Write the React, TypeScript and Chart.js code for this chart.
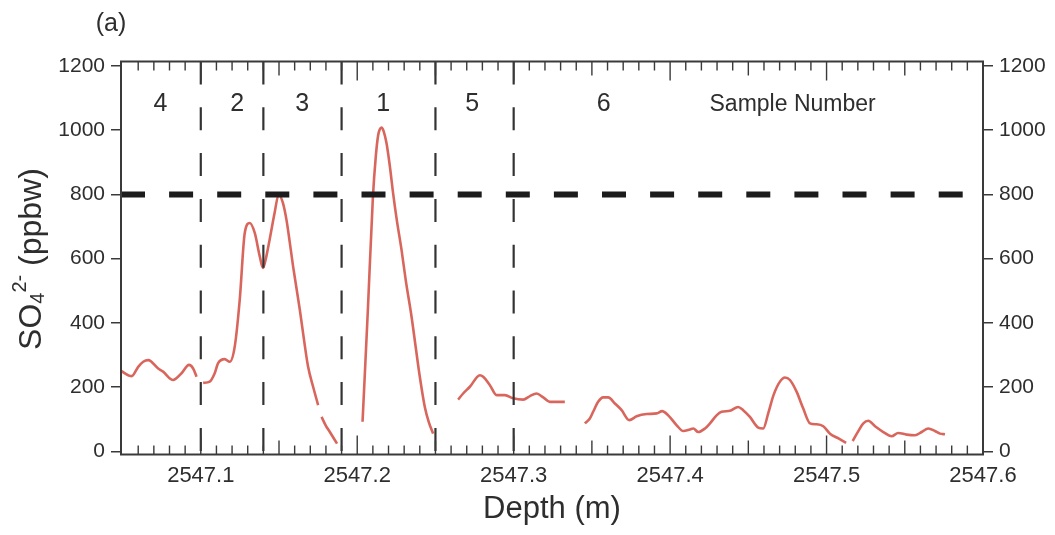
import React, { useEffect, useRef } from 'react';
import { Chart, registerables } from 'chart.js';

Chart.register(...registerables);

const FONT = '"Liberation Sans", Arial, Helvetica, sans-serif';
const TEXT = '#2e2e2e';
const AXIS = '#3a3a3a';
const RED = '#d9665c';

// ---- axes ----
const X_MIN = 2547.049;
const X_MAX = 2547.6;
const Y_MIN = -10;
const Y_MAX = 1214;
const xTickValues = [2547.1, 2547.2, 2547.3, 2547.4, 2547.5, 2547.6];
const yTickValues = [0, 200, 400, 600, 800, 1000, 1200];

// ---- annotations ----
const thresholdPpbw = 800;
const sampleBoundaries = [2547.1, 2547.14, 2547.19, 2547.25, 2547.3];
const sampleNumbers = ['4', '2', '3', '1', '5', '6'];
const sampleLabelDepths = [2547.0742, 2547.1232, 2547.1648, 2547.2166, 2547.2735, 2547.3575];
const sampleTitle = 'Sample Number';
const sampleTitleDepth = 2547.4783;
const sampleLabelLevel = 1080;

// ---- SO4 2- record (depth m, ppbw), one array pair per continuous piece ----
const depthA = [2547.049, 2547.0558, 2547.06, 2547.0632, 2547.0664, 2547.0728, 2547.0759, 2547.0823, 2547.0877, 2547.0925, 2547.0951, 2547.0973];
const so4A = [250, 234, 263, 279, 284, 258, 248, 222, 243, 269, 258, 232];

const depthB = [2547.1015, 2547.1057, 2547.1089, 2547.111, 2547.1153, 2547.1185, 2547.1217, 2547.1249, 2547.1281, 2547.1313, 2547.1345, 2547.1377, 2547.1398, 2547.1419, 2547.144, 2547.1472, 2547.1498, 2547.1524, 2547.1548, 2547.1569, 2547.159, 2547.1633, 2547.1659, 2547.1686, 2547.1718, 2547.175];
const so4B = [213, 217, 243, 274, 287, 279, 326, 472, 680, 711, 680, 607, 571, 607, 659, 743, 800, 775, 720, 650, 576, 441, 350, 263, 201, 144];

const depthC = [2547.1772, 2547.1799, 2547.1825, 2547.1871];
const so4C = [107, 80, 60, 24];

const depthD = [2547.2034, 2547.2068, 2547.21, 2547.2119, 2547.2134, 2547.2144, 2547.2155, 2547.217, 2547.2187, 2547.2208, 2547.2229, 2547.2253, 2547.2283, 2547.2311, 2547.2347, 2547.2375, 2547.24, 2547.2432, 2547.2458, 2547.2485];
const so4D = [92, 440, 790, 920, 985, 1002, 1008, 995, 960, 890, 805, 720, 628, 530, 420, 320, 232, 138, 90, 55];

const depthE = [2547.2645, 2547.2677, 2547.272, 2547.2784, 2547.2805, 2547.2848, 2547.2891, 2547.2944, 2547.2997, 2547.3061, 2547.3104, 2547.3146, 2547.3189, 2547.3231, 2547.3285, 2547.3327];
const so4E = [161, 180, 201, 237, 232, 206, 175, 175, 165, 161, 172, 180, 168, 154, 154, 154];

const depthF = [2547.3455, 2547.3487, 2547.3508, 2547.354, 2547.3572, 2547.3604, 2547.3647, 2547.369, 2547.3739, 2547.3786, 2547.385, 2547.3914, 2547.3949, 2547.3988, 2547.4042, 2547.4084, 2547.4127, 2547.4148, 2547.418, 2547.4223, 2547.4255, 2547.4297, 2547.4329, 2547.4382, 2547.4435, 2547.4467, 2547.451, 2547.4563, 2547.4595, 2547.4627, 2547.4661, 2547.4702, 2547.4734, 2547.4766, 2547.4809, 2547.4851, 2547.4894, 2547.4937, 2547.4979, 2547.5022, 2547.5076, 2547.5125];
const so4F = [87, 102, 123, 154, 168, 168, 149, 128, 97, 109, 116, 118, 125, 112, 81, 63, 68, 71, 60, 71, 87, 112, 123, 126, 138, 128, 107, 74, 71, 118, 175, 217, 230, 222, 185, 133, 87, 84, 78, 55, 40, 26];

const depthG = [2547.5167, 2547.5203, 2547.5235, 2547.5267, 2547.531, 2547.5363, 2547.5416, 2547.5458, 2547.5512, 2547.5565, 2547.5608, 2547.565, 2547.5693, 2547.5725, 2547.5757];
const so4G = [32, 63, 87, 95, 78, 60, 47, 57, 52, 50, 60, 71, 63, 55, 53];

const pieces: [number[], number[]][] = [
  [depthA, so4A], [depthB, so4B], [depthC, so4C], [depthD, so4D],
  [depthE, so4E], [depthF, so4F], [depthG, so4G],
];

const decor = {
  id: 'decor',
  afterDatasetsDraw(chart: any) {
    const { ctx, chartArea: a, scales } = chart;
    const x = scales.x;
    ctx.save();
    ctx.strokeStyle = AXIS;
    ctx.lineWidth = 1.4;
    for (let k = 6; k < 60; k++) {
      const px = x.getPixelForValue(2547 + k / 100);
      const len = k % 10 === 0 ? 19 : k % 5 === 0 ? 14 : 9;
      ctx.beginPath();
      ctx.moveTo(px, a.bottom);
      ctx.lineTo(px, a.bottom - len);
      ctx.moveTo(px, a.top);
      ctx.lineTo(px, a.top + len);
      ctx.stroke();
    }
    ctx.lineWidth = 2;
    ctx.strokeRect(a.left, a.top, a.right - a.left, a.bottom - a.top);
    ctx.restore();
  },
  afterDraw(chart: any) {
    const { ctx, scales } = chart;
    const x = scales.x;
    const y = scales.y;
    ctx.save();
    ctx.fillStyle = TEXT;
    ctx.textAlign = 'center';
    ctx.textBaseline = 'middle';
    // sample numbers
    ctx.font = `25px ${FONT}`;
    const ly = y.getPixelForValue(sampleLabelLevel);
    sampleNumbers.forEach((s, i) => {
      ctx.fillText(s, x.getPixelForValue(sampleLabelDepths[i]), ly);
    });
    ctx.font = `23px ${FONT}`;
    ctx.fillText(sampleTitle, x.getPixelForValue(sampleTitleDepth), ly);
    // panel label
    ctx.font = `25px ${FONT}`;
    ctx.fillText('(a)', 111, 24);
    // y axis title with sub/superscript
    ctx.translate(30, 259);
    ctx.rotate(-Math.PI / 2);
    ctx.textAlign = 'left';
    ctx.textBaseline = 'alphabetic';
    const big = `32px ${FONT}`;
    const small = `20px ${FONT}`;
    const parts: [string, string, number][] = [
      ['SO', big, 0],
      ['4', small, 3],
      ['2-', small, -15],
      [' (ppbw)', big, 0],
    ];
    let total = 0;
    const widths = parts.map(([t, f]) => {
      ctx.font = f;
      const w = ctx.measureText(t).width;
      total += w;
      return w;
    });
    let cx = -total / 2;
    const base = 11;
    parts.forEach(([t, f, dy], i) => {
      ctx.font = f;
      ctx.fillText(t, cx, base + dy);
      cx += widths[i];
    });
    ctx.restore();
  },
};

export default function App() {
  const ref = useRef<HTMLCanvasElement | null>(null);

  useEffect(() => {
    if (!ref.current) return;
    const datasets: any[] = [];
    datasets.push({
      data: [
        { x: X_MIN, y: thresholdPpbw },
        { x: X_MAX, y: thresholdPpbw },
      ],
      borderColor: '#1c1c1c',
      borderWidth: 6,
      borderDash: [24, 24.1],
      borderCapStyle: 'butt',
      pointRadius: 0,
      order: 0,
    });
    sampleBoundaries.forEach((b) => {
      datasets.push({
        data: [
          { x: b, y: Y_MAX },
          { x: b, y: Y_MIN },
        ],
        borderColor: '#333333',
        borderWidth: 2.2,
        borderDash: [23, 22.8],
        borderCapStyle: 'butt',
        pointRadius: 0,
        order: 1,
      });
    });
    pieces.forEach(([d, v]) => {
      datasets.push({
        data: d.map((dx, i) => ({ x: dx, y: v[i] })),
        borderColor: RED,
        borderWidth: 2.6,
        pointRadius: 0,
        cubicInterpolationMode: 'monotone',
        order: 3,
      });
    });

    const chart = new Chart(ref.current, {
      type: 'line',
      data: { datasets },
      plugins: [decor],
      options: {
        animation: false,
        responsive: false,
        layout: { padding: { top: 61.5, left: 0, right: 0, bottom: 0 } },
        plugins: {
          legend: { display: false },
          tooltip: { enabled: false },
          title: { display: false },
        },
        scales: {
          x: {
            type: 'linear',
            position: 'bottom',
            min: X_MIN,
            max: X_MAX,
            afterBuildTicks: (s: any) => {
              s.ticks = xTickValues.map((v) => ({ value: v }));
            },
            afterFit: (s: any) => {
              s.height = 80.5;
            },
            grid: { display: false, drawTicks: false },
            border: { display: false },
            ticks: {
              font: { family: FONT, size: 22 },
              color: TEXT,
              padding: 8,
              maxRotation: 0,
              autoSkip: false,
              callback: (v: any) => Number(v).toFixed(1),
            },
            title: {
              display: true,
              text: 'Depth (m)',
              font: { family: FONT, size: 31 },
              color: TEXT,
              padding: { top: 0, bottom: 7 },
            },
          },
          y: {
            type: 'linear',
            position: 'left',
            min: Y_MIN,
            max: Y_MAX,
            afterBuildTicks: (s: any) => {
              s.ticks = yTickValues.map((v) => ({ value: v }));
            },
            afterFit: (s: any) => {
              s.width = 121;
            },
            grid: { drawOnChartArea: false, drawTicks: true, tickLength: 10, color: AXIS, lineWidth: 1.5 },
            border: { display: false },
            ticks: {
              font: { family: FONT, size: 21 },
              color: TEXT,
              padding: 6,
              callback: (v: any) => String(v),
            },
          },
          y1: {
            type: 'linear',
            position: 'right',
            min: Y_MIN,
            max: Y_MAX,
            afterBuildTicks: (s: any) => {
              s.ticks = yTickValues.map((v) => ({ value: v }));
            },
            afterFit: (s: any) => {
              s.width = 72;
            },
            grid: { drawOnChartArea: false, drawTicks: true, tickLength: 10, color: AXIS, lineWidth: 1.5 },
            border: { display: false },
            ticks: {
              font: { family: FONT, size: 21 },
              color: TEXT,
              padding: 6,
              callback: (v: any) => String(v),
            },
          },
        },
      } as any,
    });
    return () => chart.destroy();
  }, []);

  return (
    <div style={{ position: 'absolute', left: 0, top: 0, width: 1055, height: 535, background: '#fff' }}>
      <canvas ref={ref} width={1055} height={535} style={{ width: 1055, height: 535, display: 'block' }} />
    </div>
  );
}
